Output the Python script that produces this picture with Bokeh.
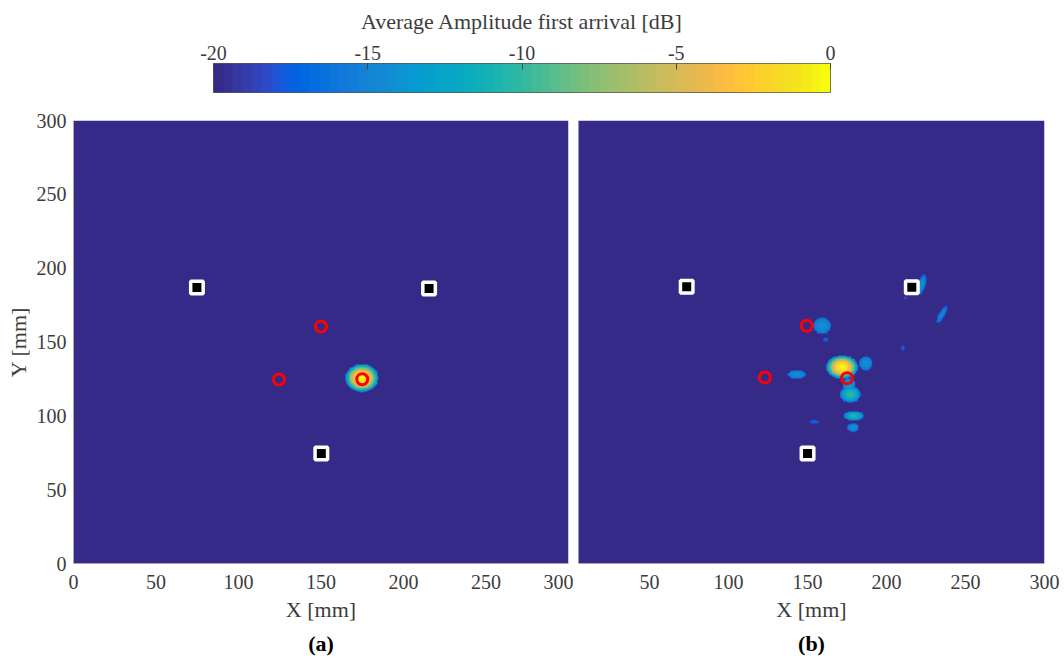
import numpy as np
from bokeh.plotting import figure
from bokeh.layouts import row, column
from bokeh.models import LinearColorMapper, FixedTicker, Title, Range1d
from bokeh.embed import file_html
from bokeh.resources import INLINE

# ---- colour scale (MATLAB parula, 64 levels) ----
PARULA_RGB = [
    (0.2081, 0.1663, 0.5292), (0.2116, 0.1898, 0.5777), (0.2123, 0.2138, 0.6270), (0.2081, 0.2386, 0.6771),
    (0.1959, 0.2645, 0.7279), (0.1707, 0.2919, 0.7792), (0.1253, 0.3242, 0.8303), (0.0591, 0.3598, 0.8683),
    (0.0117, 0.3875, 0.8820), (0.0060, 0.4086, 0.8828), (0.0165, 0.4266, 0.8786), (0.0329, 0.4430, 0.8720),
    (0.0498, 0.4586, 0.8641), (0.0629, 0.4737, 0.8554), (0.0723, 0.4887, 0.8467), (0.0779, 0.5040, 0.8384),
    (0.0793, 0.5200, 0.8312), (0.0749, 0.5375, 0.8263), (0.0641, 0.5570, 0.8240), (0.0488, 0.5772, 0.8228),
    (0.0343, 0.5966, 0.8199), (0.0265, 0.6137, 0.8135), (0.0239, 0.6287, 0.8038), (0.0231, 0.6418, 0.7913),
    (0.0228, 0.6535, 0.7768), (0.0267, 0.6642, 0.7607), (0.0384, 0.6743, 0.7436), (0.0590, 0.6838, 0.7254),
    (0.0843, 0.6928, 0.7062), (0.1133, 0.7015, 0.6859), (0.1453, 0.7098, 0.6646), (0.1801, 0.7177, 0.6424),
    (0.2178, 0.7250, 0.6193), (0.2586, 0.7317, 0.5954), (0.3022, 0.7376, 0.5712), (0.3482, 0.7424, 0.5473),
    (0.3953, 0.7459, 0.5244), (0.4420, 0.7481, 0.5033), (0.4871, 0.7491, 0.4840), (0.5300, 0.7491, 0.4661),
    (0.5709, 0.7485, 0.4494), (0.6099, 0.7473, 0.4337), (0.6473, 0.7456, 0.4188), (0.6834, 0.7435, 0.4044),
    (0.7184, 0.7411, 0.3905), (0.7525, 0.7384, 0.3768), (0.7858, 0.7356, 0.3633), (0.8185, 0.7327, 0.3498),
    (0.8507, 0.7299, 0.3360), (0.8824, 0.7274, 0.3217), (0.9139, 0.7258, 0.3063), (0.9450, 0.7261, 0.2886),
    (0.9739, 0.7314, 0.2666), (0.9938, 0.7455, 0.2403), (0.9990, 0.7653, 0.2164), (0.9955, 0.7861, 0.1967),
    (0.9880, 0.8066, 0.1794), (0.9789, 0.8271, 0.1633), (0.9697, 0.8481, 0.1475), (0.9626, 0.8705, 0.1309),
    (0.9589, 0.8949, 0.1132), (0.9598, 0.9218, 0.0948), (0.9661, 0.9514, 0.0755), (0.9763, 0.9831, 0.0538),
]
PARULA = ["#%02x%02x%02x" % tuple(int(round(c * 255)) for c in rgb) for rgb in PARULA_RGB]

# ---- ticks / labels ----
cbar_title = "Average Amplitude first arrival [dB]"
cbar_ticks = [-20, -15, -10, -5, 0]
cbar_tick_labels = ["-20", "-15", "-10", "-5", "0"]
x_ticks_a = [0, 50, 100, 150, 200, 250, 300]
x_ticks_b = [50, 100, 150, 200, 250, 300]
y_ticks = [0, 50, 100, 150, 200, 250, 300]
db_low, db_high = -20, 0

# ---- panel (a) ----
sensor_a_x = [74.8, 215.5, 150.2]
sensor_a_y = [186.9, 186.2, 74.5]
target_a_x = [150.0, 124.5, 175.0]
target_a_y = [160.5, 124.6, 124.8]
blob_a_x = [174.8]
blob_a_y = [125.6]
blob_a_rx = [10.0]
blob_a_ry = [9.4]
blob_a_ang = [0.0]
blob_a_peak = [0.0]
blob_a_edge = [-15.5]

# ---- panel (b) ----
sensor_b_x = [73.5, 216.0, 150.0]
sensor_b_y = [187.5, 187.0, 74.5]
target_b_x = [149.5, 123.0, 175.0]
target_b_y = [161.0, 126.0, 125.5]
blob_b_x = [171.5, 159.0, 161.0, 186.5, 143.0, 176.8, 176.0, 179.0, 178.5, 154.0, 210.0, 222.0, 234.6, 211.5]
blob_b_y = [133.0, 161.0, 151.5, 135.5, 128.0, 114.5, 121.0, 100.0, 92.0, 96.0, 146.0, 189.0, 168.6, 179.4]
blob_b_rx = [10.0, 5.5, 1.5, 4.2, 5.8, 6.5, 4.0, 6.4, 3.7, 3.0, 1.3, 2.2, 1.8, 1.0]
blob_b_ry = [8.0, 5.5, 1.5, 4.5, 2.8, 5.5, 4.5, 3.2, 2.8, 1.3, 1.3, 6.6, 6.4, 1.0]
blob_b_ang = [0, 0, 0, 0, 0, 0, 0, 0, 0, 0, 0, -12, -28, 0]
blob_b_peak = [0.0, -14.0, -17.0, -14.0, -14.0, -10.0, -13.0, -10.5, -14.0, -17.0, -17.0, -14.0, -15.0, -18.0]
blob_b_edge = [-16.0, -16.5, -18.0, -16.5, -16.5, -16.5, -16.5, -16.5, -16.5, -18.0, -18.0, -17.0, -17.0, -18.5]

FONT = "Liberation Serif"
TXT = "#3c3c3c"


def build_field(xs, ys, rxs, rys, angs, peaks, edges):
    g = np.arange(0.0, 300.0, 0.5) + 0.25
    X, Y = np.meshgrid(g, g)
    F = np.full(X.shape, float(db_low))
    for x, y, rx, ry, a, pk, ed in zip(xs, ys, rxs, rys, angs, peaks, edges):
        t = np.deg2rad(a)
        dx, dy = X - x, Y - y
        u = dx * np.cos(t) + dy * np.sin(t)
        v = -dx * np.sin(t) + dy * np.cos(t)
        r2 = (u / rx) ** 2 + (v / ry) ** 2
        val = np.where(r2 < 1.0, ed + (pk - ed) * (1.0 - r2), db_low)
        F = np.maximum(F, val)
    return F.astype(np.float32)


mapper = LinearColorMapper(palette=PARULA, low=db_low, high=db_high)


def style_axis(ax, ticks):
    ax.ticker = FixedTicker(ticks=ticks)
    ax.major_label_text_font = FONT
    ax.major_label_text_font_size = "20px"
    ax.major_label_text_color = TXT
    ax.axis_label_text_font = FONT
    ax.axis_label_text_font_size = "22px"
    ax.axis_label_text_font_style = "normal"
    ax.axis_label_text_color = TXT
    ax.major_tick_in = 0
    ax.major_tick_out = 0
    ax.minor_tick_in = 0
    ax.minor_tick_out = 0
    ax.axis_line_color = "#a8a8a8"


def make_panel(field, xr, x_ticks, sx, sy, tx, ty, letter, show_y, w, bl, br):
    p = figure(width=w, height=551,
               x_range=Range1d(*xr), y_range=Range1d(0, 300),
               min_border_left=bl, min_border_right=br, min_border_top=12, min_border_bottom=96,
               output_backend="svg", toolbar_location=None, background_fill_color="white",
               outline_line_color=None)
    p.grid.visible = False
    p.image(image=[field], x=0, y=0, dw=300, dh=300, color_mapper=mapper)
    p.scatter(sx, sy, marker="square", size=12.5, fill_color="black", line_color="white", line_width=3.5)
    p.scatter(tx, ty, marker="circle", size=11, fill_color=None, line_color="#ff0000", line_width=3)
    style_axis(p.xaxis[0], x_ticks)
    p.xaxis.axis_label = "X [mm]"
    p.xaxis.major_label_standoff = 11
    p.xaxis.axis_label_standoff = 5
    if show_y:
        style_axis(p.yaxis[0], y_ticks)
        p.yaxis.axis_label = "Y [mm]"
        p.yaxis.major_label_standoff = 7
        p.yaxis.axis_label_standoff = 3
    else:
        p.yaxis.visible = False
    t = Title(text=letter, align="center", text_font=FONT, text_font_size="22px",
              text_font_style="bold", text_color="black", standoff=8)
    p.add_layout(t, "below")
    return p


field_a = build_field(blob_a_x, blob_a_y, blob_a_rx, blob_a_ry, blob_a_ang, blob_a_peak, blob_a_edge)
field_b = build_field(blob_b_x, blob_b_y, blob_b_rx, blob_b_ry, blob_b_ang, blob_b_peak, blob_b_edge)

pa = make_panel(field_a, (0, 300), x_ticks_a, sensor_a_x, sensor_a_y, target_a_x, target_a_y, "(a)", True, 573, 73, 5)
pb = make_panel(field_b, (5, 300), x_ticks_b, sensor_b_x, sensor_b_y, target_b_x, target_b_y, "(b)", False, 491, 5, 20)

# ---- colour bar ----
cb = figure(width=1064, height=108, x_range=Range1d(db_low, db_high), y_range=Range1d(0, 1),
            min_border_left=213, min_border_right=234, min_border_top=63, min_border_bottom=16,
            x_axis_location="above", output_backend="svg", toolbar_location=None,
            outline_line_color="#555555")
cb.grid.visible = False
cb.yaxis.visible = False
levels = np.linspace(db_low, db_high, len(PARULA)).reshape(1, -1)
cb.image(image=[levels], x=db_low, y=0, dw=db_high - db_low, dh=1, color_mapper=mapper)
style_axis(cb.xaxis[0], cbar_ticks)
cb.xaxis.major_label_overrides = {t: s for t, s in zip(cbar_ticks, cbar_tick_labels)}
cb.xaxis.axis_label = cbar_title
cb.xaxis.major_tick_in = 6
cb.xaxis.major_tick_line_color = "#444444"
cb.xaxis.axis_line_color = None
cb.xaxis.major_label_standoff = 4
cb.xaxis.axis_label_standoff = 9

layout = column(cb, row(pa, pb, spacing=0), spacing=0)
open("out.html", "w").write(file_html(layout, INLINE))
